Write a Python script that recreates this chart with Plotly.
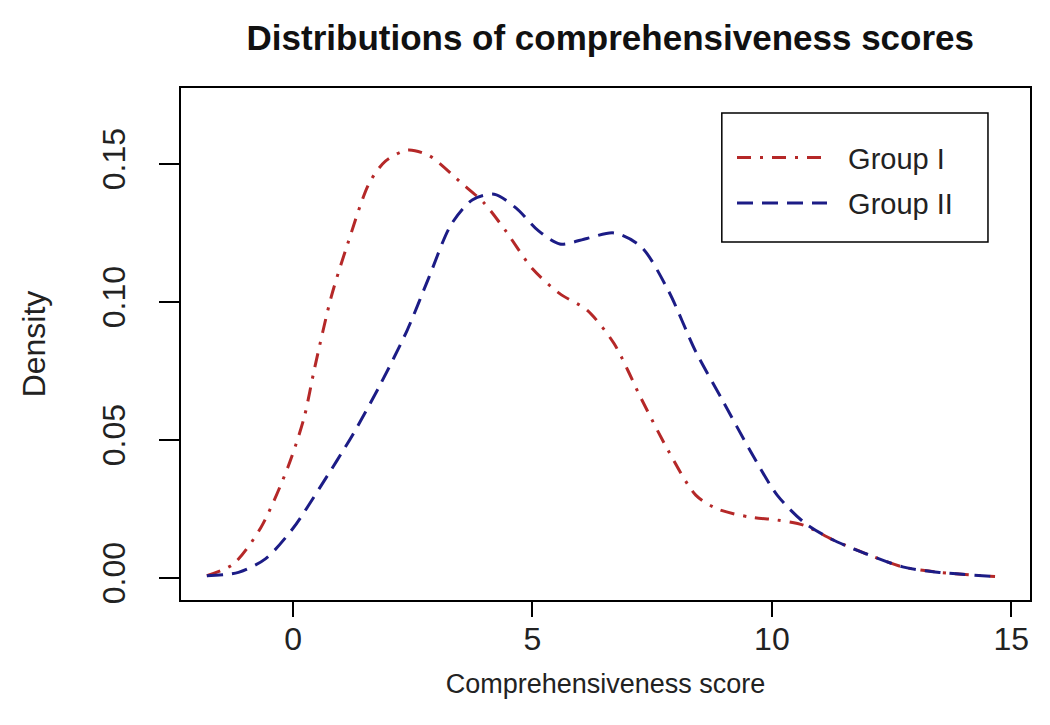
import plotly.graph_objects as go

# Density estimates
group1_x = [-1.8, -1.25, -0.68, -0.11, 0.23, 0.45, 0.8, 1.14, 1.59, 1.93, 2.39, 2.84,
            3.52, 3.98, 4.43, 5.0, 5.57, 6.14, 6.7, 7.27, 7.84, 8.41, 8.86, 9.55,
            10.1, 10.68, 11.25, 11.93, 12.73, 13.5, 14.66]
group1_y = [0.0008, 0.005, 0.018, 0.040, 0.058, 0.076, 0.102, 0.121, 0.143, 0.151, 0.155, 0.153,
            0.143, 0.136, 0.126, 0.112, 0.103, 0.097, 0.085, 0.065, 0.046, 0.030, 0.025, 0.022,
            0.021, 0.019, 0.014, 0.009, 0.004, 0.002, 0.0005]

group2_x = [-1.8, -1.14, -0.57, 0.0, 0.57, 1.25, 1.82, 2.39, 2.84, 3.3, 3.75, 4.2,
            4.66, 5.11, 5.57, 6.14, 6.7, 7.27, 7.84, 8.41, 8.98, 9.55, 10.11, 10.68,
            11.25, 11.93, 12.73, 13.5, 14.66]
group2_y = [0.0008, 0.002, 0.007, 0.018, 0.033, 0.052, 0.070, 0.090, 0.109, 0.128, 0.137, 0.139,
            0.134, 0.126, 0.121, 0.123, 0.125, 0.120, 0.104, 0.082, 0.064, 0.046, 0.030, 0.020,
            0.014, 0.009, 0.004, 0.002, 0.0005]

x_ticks = [0, 5, 10, 15]
y_ticks = [0.00, 0.05, 0.10, 0.15]
y_ticktext = ["0.00", "0.05", "0.10", "0.15"]

font_ = "Liberation Sans, Arial, sans-serif"
nb = "\u00a0"

fig = go.Figure()

fig.add_trace(
    go.Scatter(
        x=group1_x,
        y=group1_y,
        name=nb * 2 + "Group I",
        legendgroup="g1",
        mode="lines",
        line=dict(color="#B52828", width=3, dash="14px,9px,3px,9px", shape="spline", smoothing=0.8),
    )
)
fig.add_trace(
    go.Scatter(
        x=group2_x,
        y=group2_y,
        name=nb * 2 + "Group II",
        legendgroup="g2",
        mode="lines",
        line=dict(color="#1C1C86", width=3, dash="16px,9px", shape="spline", smoothing=0.8),
    )
)

# legend frame, drawn as a box so its size can match
fig.add_shape(
    type="rect",
    xref="paper",
    yref="paper",
    x0=0.637,
    x1=0.9505,
    y0=0.699,
    y1=0.951,
    line=dict(color="black", width=1.5),
    fillcolor="rgba(0,0,0,0)",
)

# the page body adds an 8px offset, so the figure is made a little smaller
fig.update_layout(
    width=1042,
    height=717,
    margin=dict(l=173, r=20, t=80, b=125),
    plot_bgcolor="white",
    paper_bgcolor="white",
    font=dict(family=font_, color="#222222", size=30),
    title=dict(
        text="<b>Distributions of comprehensiveness scores</b>",
        x=0.578,
        xanchor="center",
        y=0.958,
        yanchor="middle",
        automargin=False,
        font=dict(family=font_, size=35, color="#111111"),
    ),
    legend=dict(
        x=0.649,
        y=0.914,
        xanchor="left",
        yanchor="top",
        borderwidth=0,
        bgcolor="rgba(0,0,0,0)",
        font=dict(size=29, family=font_),
        itemwidth=90,
        tracegroupgap=5,
    ),
    showlegend=True,
)

fig.update_xaxes(
    range=[-2.34, 15.39],
    tickvals=x_ticks,
    ticks="outside",
    ticklen=15,
    tickwidth=1.5,
    tickcolor="black",
    showline=True,
    linecolor="black",
    linewidth=2,
    mirror=True,
    showgrid=False,
    zeroline=False,
    automargin=False,
    tickfont=dict(size=32),
    ticklabelstandoff=-5,
    title=dict(text="Comprehensiveness score", font=dict(size=27), standoff=18),
)
fig.update_yaxes(
    range=[-0.008, 0.1775],
    tickvals=y_ticks,
    ticktext=y_ticktext,
    tickangle=-90,
    ticks="outside",
    ticklen=20,
    tickwidth=1.5,
    tickcolor="black",
    showline=True,
    linecolor="black",
    linewidth=2,
    mirror=True,
    showgrid=False,
    zeroline=False,
    automargin=False,
    tickfont=dict(size=32),
    ticklabelstandoff=21,
    title=dict(text="Density", font=dict(size=32), standoff=41),
)

fig.write_html("out.html")
